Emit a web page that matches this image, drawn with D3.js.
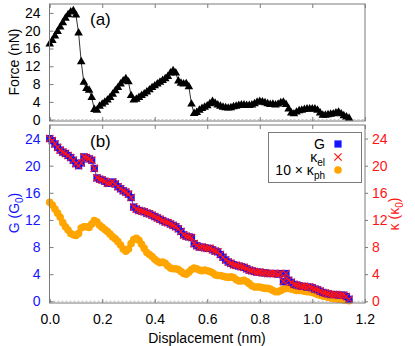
<!DOCTYPE html>
<html>
<head>
<meta charset="utf-8">
<script src="https://cdn.jsdelivr.net/npm/d3@7"></script>
<style>
  body { margin: 0; background: #fff; }
  text { font-family: "Liberation Sans", Arial, sans-serif; }
</style>
</head>
<body>
<svg id="chart" width="415" height="346"></svg>
<script>
// displacement grid (nm), shared by both panels
const disp = [
  0.00,0.01,0.02,0.03,0.04,0.05,0.06,0.07,0.08,0.09,
  0.10,0.11,0.12,0.13,0.14,0.15,0.16,0.17,0.18,0.19,
  0.20,0.21,0.22,0.23,0.24,0.25,0.26,0.27,0.28,0.29,
  0.30,0.31,0.32,0.33,0.34,0.35,0.36,0.37,0.38,0.39,
  0.40,0.41,0.42,0.43,0.44,0.45,0.46,0.47,0.48,0.49,
  0.50,0.51,0.52,0.53,0.54,0.55,0.56,0.57,0.58,0.59,
  0.60,0.61,0.62,0.63,0.64,0.65,0.66,0.67,0.68,0.69,
  0.70,0.71,0.72,0.73,0.74,0.75,0.76,0.77,0.78,0.79,
  0.80,0.81,0.82,0.83,0.84,0.85,0.86,0.87,0.88,0.89,
  0.90,0.91,0.92,0.93,0.94,0.95,0.96,0.97,0.98,0.99,
  1.00,1.01,1.02,1.03,1.04,1.05,1.06,1.07,1.08,1.09,
  1.10,1.11,1.12,1.13,1.14
];

// (a) force, nN
const force = [
  17.0,17.8,18.8,19.8,20.8,21.8,22.8,23.6,24.2,24.5,
  23.5,19.5,13.0,8.4,7.0,6.6,5.0,2.3,2.1,3.0,
  3.5,3.9,4.4,5.0,5.7,6.5,7.2,8.0,8.7,9.2,
  8.5,5.4,4.4,4.6,5.0,5.4,5.8,6.2,6.7,7.2,
  7.6,8.0,8.4,8.8,9.2,9.7,10.5,11.0,10.5,8.7,
  8.2,8.0,8.1,7.4,3.5,1.4,1.6,2.1,2.5,2.8,
  3.1,3.6,4.1,3.7,3.3,3.0,2.8,2.7,2.6,2.7,
  2.9,3.0,3.2,3.3,3.3,3.2,3.2,3.3,3.6,3.9,
  4.1,4.0,3.8,3.6,3.4,3.5,3.3,3.5,3.8,3.9,
  3.4,2.4,1.5,1.3,1.7,2.0,2.1,2.3,2.4,2.4,
  2.4,2.4,2.1,1.5,1.0,1.0,1.1,1.2,1.3,1.5,
  1.7,1.3,0.9,0.6,0.3
];

// (b) conductance G, G0
const cond = [
  24.0,23.7,23.2,22.7,22.3,22.0,21.8,21.5,21.2,20.8,
  20.3,20.0,20.4,21.3,21.2,21.0,20.8,19.6,18.2,18.0,
  17.9,17.7,17.4,17.4,17.6,17.3,16.9,16.6,16.3,16.1,
  15.8,15.3,13.9,13.6,13.4,13.3,13.2,13.0,12.9,12.7,
  12.5,12.3,12.1,11.9,11.7,11.6,11.4,11.2,11.0,10.7,
  10.3,9.8,9.6,9.5,9.4,8.5,8.2,8.0,8.0,7.9,
  7.8,7.8,7.6,7.4,7.3,6.9,6.5,6.1,5.8,5.6,
  5.4,5.3,5.2,5.1,5.0,4.8,4.6,4.5,4.4,4.3,
  4.3,4.2,4.2,4.1,4.1,4.1,4.1,4.0,4.1,2.9,
  4.1,3.1,2.8,2.5,2.4,2.3,2.2,2.2,2.1,2.1,
  2.0,1.8,1.7,1.5,1.3,1.2,1.1,1.0,1.0,1.0,
  0.9,0.9,0.9,0.7,0.3
];

// (b) electronic thermal conductance, kappa0
const kappaEl = [
  24.0,23.7,23.2,22.7,22.3,22.0,21.8,21.5,21.2,20.8,
  20.3,20.0,20.4,21.3,21.2,21.0,20.8,19.6,18.2,18.0,
  17.9,17.7,17.4,17.4,17.6,17.3,16.9,16.6,16.3,16.1,
  15.8,15.3,13.9,13.6,13.4,13.3,13.2,13.0,12.9,12.7,
  12.5,12.3,12.1,11.9,11.7,11.6,11.4,11.2,11.0,10.7,
  10.3,9.8,9.6,9.5,9.4,8.5,8.2,8.0,8.0,7.9,
  7.8,7.8,7.6,7.4,7.3,6.9,6.5,6.1,5.8,5.6,
  5.4,5.3,5.2,5.1,5.0,4.8,4.6,4.5,4.4,4.3,
  4.3,4.2,4.2,4.1,4.1,4.1,4.1,4.0,4.1,2.9,
  4.1,3.1,2.8,2.5,2.4,2.3,2.2,2.2,2.1,2.1,
  2.0,1.8,1.7,1.5,1.3,1.2,1.1,1.0,1.0,1.0,
  0.9,0.9,0.9,0.7,0.3
];

// (b) 10 x phonon thermal conductance, kappa0
const kappaPh10 = [
  14.6,14.2,13.6,13.0,12.4,11.6,11.0,10.5,10.0,9.8,
  9.7,10.0,10.8,11.0,11.0,10.9,11.4,11.9,11.7,11.2,
  10.9,10.6,10.3,9.9,9.5,9.2,8.8,8.3,7.7,7.4,
  7.7,8.5,9.1,9.3,9.0,8.4,7.8,7.2,6.9,6.6,
  6.2,5.9,5.7,5.8,5.6,5.2,4.9,4.8,4.8,4.7,
  4.4,4.1,4.0,4.3,4.7,4.9,4.8,4.6,4.5,4.6,
  4.5,4.4,4.2,3.9,3.8,3.8,3.7,3.6,3.5,3.6,
  3.5,3.2,3.0,3.0,3.1,2.9,2.6,2.3,2.1,2.1,
  2.1,2.0,1.9,1.9,1.8,1.6,1.4,1.4,1.6,1.8,
  1.9,1.9,1.8,1.7,1.6,1.6,1.6,1.5,1.4,1.4,
  1.3,1.2,1.0,0.9,0.8,0.7,0.6,0.5,0.4,0.4,
  0.3,0.3,0.2,0.2,0.1
];

const xTicks = [0, 0.2, 0.4, 0.6, 0.8, 1.0, 1.2];
const yTicks = [0, 4, 8, 12, 16, 20, 24];

const BLUE = "#1414ff", RED = "#ff1414", ORANGE = "#ffa500", FRAME = "#7a7a7a";

const svg = d3.select("#chart");
const left = 49.5, right = 365;

const x = d3.scaleLinear().domain([0, 1.2]).range([49.7, 364.8]);
const yA = d3.scaleLinear().domain([-0.3, 26]).range([121, 4]);
const yB = d3.scaleLinear().domain([-0.25, 26]).range([303, 125]);

const styleAxis = (g, col) => {
  g.select(".domain").remove();
  g.selectAll("line").attr("stroke", FRAME);
  g.selectAll("text").attr("fill", col).style("font-size", "14px")
    .style("font-family", '"Liberation Sans", Arial, sans-serif');
};

function panel(y, top, bottom) {
  // zero line
  svg.append("line").attr("x1", left).attr("x2", right)
    .attr("y1", y(0)).attr("y2", y(0))
    .attr("stroke", "#bbb").attr("stroke-width", 1).attr("stroke-dasharray", "2,2");
  svg.append("g").attr("transform", `translate(0,${bottom})`)
    .call(d3.axisBottom(x).tickValues(xTicks).tickSize(-4).tickFormat(""))
    .call(g => styleAxis(g, "#000"));
  svg.append("g").attr("transform", `translate(0,${top})`)
    .call(d3.axisTop(x).tickValues(xTicks).tickSize(-4).tickFormat(""))
    .call(g => styleAxis(g, "#000"));
}

// ---- panel (a)
panel(yA, 4, 121);
svg.append("g").attr("transform", `translate(${left},0)`)
  .call(d3.axisLeft(yA).tickValues(yTicks).tickSize(-4).tickPadding(9))
  .call(g => styleAxis(g, "#000"));

const ptsA = disp.map((d, i) => [d, force[i]]);
svg.append("path").datum(ptsA)
  .attr("d", d3.line().x(d => x(d[0])).y(d => yA(d[1])))
  .attr("fill", "none").attr("stroke", "#000").attr("stroke-width", 0.8);
svg.append("g").selectAll("path").data(ptsA).enter().append("path")
  .attr("transform", d => `translate(${x(d[0])},${yA(d[1])})`)
  .attr("d", d3.symbol(d3.symbolTriangle, 32))
  .attr("fill", "#000");

svg.append("rect").attr("x", left).attr("y", 4).attr("width", right - left).attr("height", 117)
  .attr("fill", "none").attr("stroke", FRAME);

svg.append("text").attr("x", 90).attr("y", 25).style("font-size", "17px").text("(a)");
svg.append("text").attr("transform", "translate(19,62) rotate(-90)")
  .attr("text-anchor", "middle").style("font-size", "14px").text("Force (nN)");

// ---- panel (b)
panel(yB, 125, 303);
svg.append("g").attr("transform", `translate(${left},0)`)
  .call(d3.axisLeft(yB).tickValues(yTicks).tickSize(-4).tickPadding(9))
  .call(g => styleAxis(g, BLUE));
svg.append("g").attr("transform", `translate(${right},0)`)
  .call(d3.axisRight(yB).tickValues(yTicks).tickSize(3).tickPadding(4))
  .call(g => styleAxis(g, RED));
svg.append("g").attr("transform", "translate(0,303)")
  .call(d3.axisBottom(x).tickValues(xTicks).tickSize(0).tickPadding(11).tickFormat(d3.format(".1f")))
  .call(g => styleAxis(g, "#000"));

const ptsG = disp.map((d, i) => [d, cond[i]]);
const ptsK = disp.map((d, i) => [d, kappaEl[i]]);
const ptsP = disp.map((d, i) => [d, kappaPh10[i]]);
const lineB = d3.line().x(d => x(d[0])).y(d => yB(d[1]));

svg.append("path").datum(ptsP).attr("d", lineB)
  .attr("fill", "none").attr("stroke", ORANGE).attr("stroke-width", 0.8);
svg.append("g").selectAll("circle").data(ptsP).enter().append("circle")
  .attr("cx", d => x(d[0])).attr("cy", d => yB(d[1])).attr("r", 3.8)
  .attr("fill", ORANGE);

svg.append("path").datum(ptsG).attr("d", lineB)
  .attr("fill", "none").attr("stroke", BLUE).attr("stroke-width", 0.8);
svg.append("g").selectAll("path").data(ptsG).enter().append("path")
  .attr("transform", d => `translate(${x(d[0])},${yB(d[1])})`)
  .attr("d", d3.symbol(d3.symbolSquare, 52))
  .attr("fill", BLUE);

svg.append("path").datum(ptsK).attr("d", lineB)
  .attr("fill", "none").attr("stroke", RED).attr("stroke-width", 0.7);
svg.append("g").selectAll("path").data(ptsK).enter().append("path")
  .attr("transform", d => `translate(${x(d[0])},${yB(d[1])})`)
  .attr("d", d3.symbol(d3.symbolTimes, 36))
  .attr("fill", "none").attr("stroke", RED).attr("stroke-width", 1.2);

svg.append("rect").attr("x", left).attr("y", 125).attr("width", right - left).attr("height", 178)
  .attr("fill", "none").attr("stroke", FRAME);

svg.append("text").attr("x", 90).attr("y", 147).style("font-size", "17px").text("(b)");

// left / right / bottom titles
const gl = svg.append("text").attr("transform", "translate(19,213) rotate(-90)")
  .attr("text-anchor", "middle").attr("fill", BLUE).style("font-size", "14px");
gl.append("tspan").text("G (G");
gl.append("tspan").attr("dy", 4).style("font-size", "10px").text("0");
gl.append("tspan").attr("dy", -4).text(")");

const kl = svg.append("text").attr("transform", "translate(399,214) rotate(-90)")
  .attr("text-anchor", "middle").attr("fill", RED).style("font-size", "14px");
kl.append("tspan").text("κ (κ");
kl.append("tspan").attr("dy", 4).style("font-size", "10px").text("0");
kl.append("tspan").attr("dy", -4).text(")");

svg.append("text").attr("x", 207).attr("y", 343).attr("text-anchor", "middle")
  .style("font-size", "14px").text("Displacement (nm)");

// legend
const lg = svg.append("g");
lg.append("rect").attr("x", 268.5).attr("y", 132.5).attr("width", 93).attr("height", 50)
  .attr("fill", "#fff").attr("stroke", FRAME);
const rows = [
  { y: 144, main: "G", sub: "" },
  { y: 157, main: "κ", sub: "el" },
  { y: 170, main: "10 × κ", sub: "ph" }
];
rows.forEach(r => {
  const t = lg.append("text").attr("x", 325).attr("y", r.y + 5)
    .attr("text-anchor", "end").style("font-size", "14px");
  t.append("tspan").text(r.main);
  if (r.sub) t.append("tspan").attr("dy", 4).style("font-size", "10px").text(r.sub);
});
lg.append("path").attr("transform", "translate(338,144)")
  .attr("d", d3.symbol(d3.symbolSquare, 52)).attr("fill", BLUE);
lg.append("path").attr("transform", "translate(338,157)")
  .attr("d", d3.symbol(d3.symbolTimes, 36)).attr("fill", "none").attr("stroke", RED).attr("stroke-width", 1.2);
lg.append("circle").attr("cx", 338).attr("cy", 170).attr("r", 3.8).attr("fill", ORANGE);
</script>
</body>
</html>
